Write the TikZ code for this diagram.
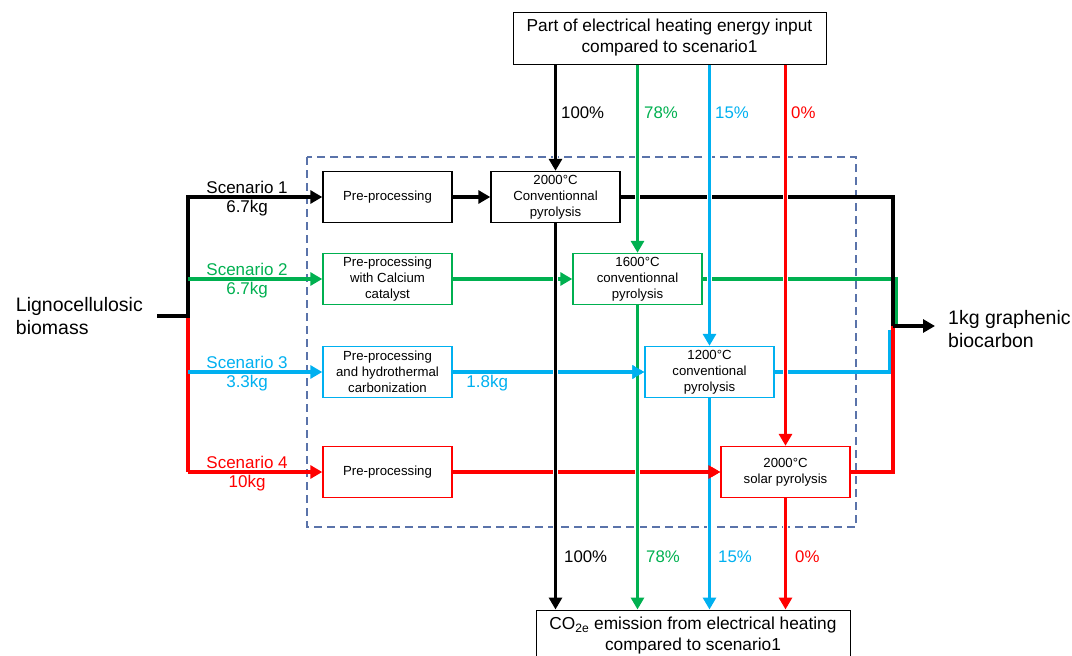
\documentclass[tikz,border=0pt]{standalone}
\usepackage{fontspec}
\setmainfont{Liberation Sans}
\usetikzlibrary{arrows.meta}
\definecolor{sgreen}{RGB}{0,176,80}
\definecolor{sblue}{RGB}{0,176,240}
\definecolor{sred}{RGB}{255,0,0}
\definecolor{frameblue}{RGB}{90,115,170}
\tikzset{
  proc/.style={draw, line width=1.4pt, minimum width=129pt, minimum height=51pt,
    align=center, inner sep=1pt, font=\fontsize{13.2}{16}\selectfont},
  info/.style={draw, line width=1pt, minimum width=313pt, minimum height=52pt,
    align=center, inner sep=2pt, font=\fontsize{17.3}{21}\selectfont},
  flow/.style={line width=3.6pt, -{Triangle[length=12pt,width=13pt]}},
  feed/.style={line width=3.6pt},
  heat/.style={line width=3.2pt, -{Triangle[length=12pt,width=13pt]},
    preaction={draw=white, line width=5pt, -, shorten <=3pt, shorten >=3pt}},
  scen/.style={font=\fontsize{17}{19}\selectfont, inner sep=1.5pt},
  pct/.style={font=\fontsize{16.8}{19}\selectfont, anchor=west, inner sep=0pt},
  frame/.style={draw=frameblue, line width=1.1pt, dash pattern=on 8pt off 5pt}
}
\begin{document}
\begin{tikzpicture}[x=1pt,y=-1pt]
    \useasboundingbox (0,0) rectangle (1072,656);
    \draw [frame] (307,157) rectangle (856,527);
    % boxes
    \node [info] (top) at (669.5,38) {Part of electrical heating energy input\\compared to scenario1};
    \node [info,minimum width=314pt] (bot) at (693,636) {CO\textsubscript{2e} emission from electrical heating\\compared to scenario1};
    \node [proc] (pp1) at (387.5,197) {Pre-processing};
    \node [proc] (conv1) at (555.5,197) {2000°C\\Conventionnal\\pyrolysis};
    \node [proc,draw=sgreen] (pp2) at (387.5,279) {Pre-processing\\with Calcium\\catalyst};
    \node [proc,draw=sgreen] (conv2) at (637.5,279) {1600°C\\conventionnal\\pyrolysis};
    \node [proc,draw=sblue] (pp3) at (387.5,372) {Pre-processing\\and hydrothermal\\carbonization};
    \node [proc,draw=sblue] (conv3) at (709.5,372) {1200°C\\conventional\\pyrolysis};
    \node [proc,draw=sred] (pp4) at (387.5,472) {Pre-processing};
    \node [proc,draw=sred] (solar) at (785.5,472) {2000°C\\solar pyrolysis};
    \node [anchor=east,align=left,inner xsep=14pt,font=\fontsize{19.5}{23}\selectfont] (lig) at (157,316) {Lignocellulosic\\biomass};
    \node [anchor=west,align=left,inner xsep=13pt,font=\fontsize{19.5}{23}\selectfont] (out) at (935,329) {1kg graphenic\\biocarbon};
    \coordinate (fork) at (188,316);
    \coordinate (jn) at (893,326);
    \coordinate (jg) at (896,326);
    \coordinate (jb) at (890,330);
    % inputs
    \draw [feed,sred] (fork) -- (fork |- pp4);
    \draw [feed] (lig.east) -- (fork) -- (fork |- pp1);
    \draw [flow] (fork) |- node [scen,above,pos=.72] {Scenario 1} node [scen,below,pos=.72] {6.7kg} (pp1.west);
    \draw [flow,sgreen] (fork |- pp2) -- node [scen,above,pos=.44] {Scenario 2} node [scen,below,pos=.44] {6.7kg} (pp2.west);
    \draw [flow,sblue] (fork |- pp3) -- node [scen,above,pos=.44] {Scenario 3} node [scen,below,pos=.44] {3.3kg} (pp3.west);
    \draw [flow,sred] (fork |- pp4) -- node [scen,above,pos=.44] {Scenario 4} node [scen,below,pos=.44] {10kg} (pp4.west);
    \draw [flow] (pp1) -- (conv1);
    \draw [flow,sgreen] (pp2) -- (conv2);
    \draw [flow,sblue] (pp3) -- node [scen,below,pos=.18] {1.8kg} (conv3);
    \draw [flow,sred] (pp4) -- (solar);
    % outputs
    \draw [feed,sgreen] (conv2.east) -| (jg);
    \draw [feed,sblue] (conv3.east) -| (jb);
    \draw [feed,sred] (solar.east) -| (jn);
    \draw [feed] (conv1.east) -| (jn);
    \draw [flow] (jn) -- (jn -| out.west);
    % electrical heating
    \draw [heat] (top.south -| conv1) -- (conv1.north);
    \draw [heat,sgreen] (top.south -| conv2) -- (conv2.north);
    \draw [heat,sblue] (top.south -| conv3) -- (conv3.north);
    \draw [heat,sred] (top.south -| solar) -- (solar.north);
    \draw [heat] (conv1.south) -- (bot.north -| conv1);
    \draw [heat,sgreen] (conv2.south) -- (bot.north -| conv2);
    \draw [heat,sblue] (conv3.south) -- (bot.north -| conv3);
    \draw [heat,sred] (solar.south) -- (bot.north -| solar);
    % tips over the crossings
    \draw [flow,sblue] ([xshift=-14pt]conv3.west) -- (conv3.west);
    \draw [flow,sred] ([xshift=-14pt]solar.west) -- (solar.west);
    \node [pct] (h1) at (561,113) {100\%};
    \node [pct,sgreen] (h2) at (644,113) {78\%};
    \node [pct,sblue] (h3) at (715,113) {15\%};
    \node [pct,sred] (h4) at (791,113) {0\%};
    \node [pct] (e1) at (564,557) {100\%};
    \node [pct,sgreen] (e2) at (646,557) {78\%};
    \node [pct,sblue] (e3) at (718,557) {15\%};
    \node [pct,sred] (e4) at (795,557) {0\%};
\end{tikzpicture}
\end{document}
